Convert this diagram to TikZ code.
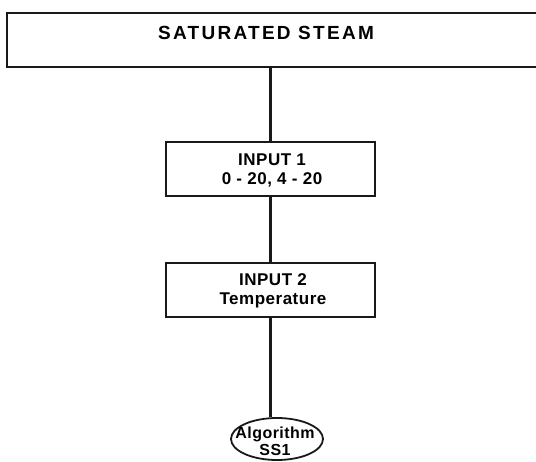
\documentclass[tikz,border=0pt]{standalone}
\usepackage{fontspec}
\setmainfont{Liberation Sans}
\newfontfamily\titlefont[LetterSpace=12]{Liberation Sans}
\newfontfamily\boxfont[LetterSpace=3]{Liberation Sans}
\usetikzlibrary{shapes.geometric}
\begin{document}
\begin{tikzpicture}[x=1pt,y=-1pt,
  frame/.style={draw=black!90, line width=2.5pt},
  boxnode/.style={frame, rectangle, minimum width=209pt, minimum height=54pt, inner sep=0pt},
  boxtext/.style={align=center, font=\boxfont\bfseries\fontsize{17}{19}\selectfont, inner sep=0pt},
  link/.style={draw=black!90, line width=2.2pt}]
\useasboundingbox (0,0) rectangle (536,462);
\clip (0,0) rectangle (536,462);
\fill[white] (0,0) rectangle (536,462);
% top box (runs off the right edge)
\node[frame, rectangle, minimum width=600pt, minimum height=54pt, inner sep=0pt] (top) at (307,40) {};
\node[anchor=base, inner sep=0pt, font=\titlefont\bfseries\fontsize{19}{21}\selectfont] (toptext) at (266,39.5) {SATURATED STEAM};
% input boxes
\node[boxnode] (in1) at (270.5,169) {};
\node[boxtext] (in1text) at (272,170) {INPUT 1\\0 - 20, 4 - 20};
\node[boxnode] (in2) at (270.5,290) {};
\node[boxtext] (in2text) at (273,291) {INPUT 2\\Temperature};
% algorithm ellipse
\node[frame, ellipse, line width=1.8pt, minimum width=92pt, minimum height=42pt, inner sep=0pt] (alg) at (277,439) {};
\node[align=center, inner sep=0pt, font=\boxfont\bfseries\fontsize{16}{17}\selectfont] (algtext) at (275,441) {Algorithm\\SS1};
% connectors
\draw[link] (top.south -| in1.north) -- (in1.north);
\draw[link] (in1.south) -- (in2.north);
\draw[link] (in2.south) -- (in2.south |- alg.north);
\end{tikzpicture}
\end{document}
